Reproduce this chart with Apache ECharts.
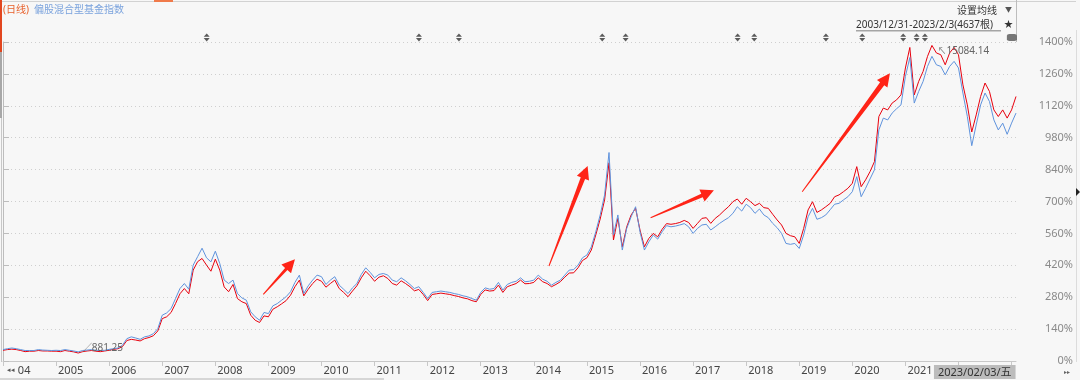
<!DOCTYPE html>
<html><head><meta charset="utf-8">
<script src="https://cdn.jsdelivr.net/npm/echarts@6/dist/echarts.min.js"></script>
<style>html,body{margin:0;padding:0;background:#f7f7f7}#c{width:1080px;height:380px}</style>
</head><body><div id="c"></div>
<script>
// ---- data (percent; one value per month, 2004-01 .. 2023-02) ----
const months = [];
for (let y = 2004; y <= 2023; y++) for (let m = 1; m <= 12; m++) { if (y === 2023 && m > 2) break; months.push(y + '-' + String(m).padStart(2, '0')); }

const redVals = [47,50,52,50,46,41,43,43,46,44,44,43,
 43,41,46,43,40,35,41,44,46,43,41,44,
 47,51,54,63,90,95,92,88,98,103,111,132,
 186,194,213,252,295,318,295,399,436,450,421,394,
 447,399,325,304,336,274,260,252,201,179,169,198,
 194,227,238,251,265,289,326,355,286,315,340,359,
 350,324,340,355,318,301,282,307,330,365,394,374,
 350,368,374,362,340,333,352,340,326,308,314,292,
 265,292,295,298,295,292,287,283,277,273,265,260,
 292,312,307,309,333,301,326,333,340,355,339,340,
 345,365,348,340,326,336,348,368,386,387,409,441,
 453,487,553,623,707,870,531,626,501,589,641,670,
 575,501,538,560,545,578,603,600,603,608,617,608,
 582,604,626,629,604,626,641,660,677,699,711,688,
 714,699,682,692,673,670,644,619,597,560,550,545,
 516,582,663,699,652,663,677,692,721,729,743,758,
 780,853,765,795,831,875,1073,1110,1102,1132,1146,1168,
 1286,1376,1168,1227,1271,1337,1385,1352,1344,1300,1352,1376,
 1344,1212,1124,1005,1080,1161,1220,1183,1102,1073,1102,1066,
 1102,1161];
const blueVals = [50,54,57,54,50,46,46,46,50,48,47,46,
 47,46,50,47,44,40,46,48,50,47,46,47,
 51,54,57,69,98,106,101,95,106,110,120,142,
 201,211,230,274,318,340,315,421,458,495,453,435,
 482,428,355,340,355,296,277,267,216,194,179,213,
 208,242,252,267,282,304,345,377,296,330,355,377,
 370,336,355,370,333,315,296,321,340,380,409,389,
 365,380,384,377,355,348,365,352,336,318,326,301,
 274,301,304,307,304,301,296,292,286,282,274,267,
 301,321,315,318,345,311,336,345,350,365,348,350,
 355,377,359,350,333,345,355,377,399,401,421,453,
 465,501,567,641,729,915,553,641,487,582,633,677,
 567,487,523,553,535,567,594,589,592,597,603,589,
 560,582,597,600,575,589,604,617,629,648,677,658,
 688,673,648,667,641,629,604,585,560,516,512,516,
 494,553,633,670,622,629,641,664,688,692,707,721,
 743,809,721,758,799,839,1014,1066,1058,1088,1107,1124,
 1249,1332,1132,1183,1227,1293,1337,1300,1293,1256,1293,1315,
 1286,1176,1073,945,1036,1124,1176,1139,1058,1014,1044,995,
 1044,1088];

const yTicks = {min: 0, max: 1400, step: 140};
const maxText = '15084.14', minText = '881.25';
const lastDateText = '2023/02/03/五';
const rangeText = '2003/12/31-2023/2/3(4637根)';
// event markers (month index positions) and hand-drawn arrows [fromIdx, fromVal, toIdx, toVal]
const eventIdx = [46.05, 94.03, 103.07, 135.47, 140.75, 166.07, 169.83, 186.03, 194.24, 203.5, 206.53, 208.41];
const eventBlobIdx = [228.07];
const eventLevel = 1420;
const arrows = [[58.84, 292.7, 66.0, 446.3],[123.42, 416.9, 132.16, 855.8],[146.4, 628.9, 160.71, 749.2],[180.67, 743.0, 200.5, 1262.6]];

const FONT = '"Noto Sans","Noto Sans CJK SC",sans-serif';
const chart = echarts.init(document.getElementById('c'), null, {renderer: 'canvas'});
const lastIdx = months.length - 1;
const boxIdx = 210;

const option = {
  backgroundColor: '#f7f7f7',
  animation: false,
  textStyle: {fontFamily: FONT},
  grid: {left: 3, right: 64, top: 42, bottom: 19},
  xAxis: [{
    type: 'category', data: months, boundaryGap: false,
    axisLine: {lineStyle: {color: '#c8c8c8'}},
    axisTick: {show: true, length: 5, interval: (i) => i % 12 === 0, lineStyle: {color: '#c8c8c8'}},
    axisLabel: {
      interval: (i) => (i % 12 === 0 && i <= 204) || i === boxIdx,
      align: 'left', margin: 4, padding: [0, 0, 0, 2], fontSize: 11, color: '#444', fontFamily: FONT,
      formatter: (v, i) => i === 0 ? '{a|◂◂} {b|04}' : (i === boxIdx ? '{h|' + lastDateText + '}' : v.slice(0, 4)),
      rich: {
        a: {fontSize: 7, color: '#555', padding: [0, 0, 0, 2]},
        b: {fontSize: 11, color: '#444'},
        h: {backgroundColor: '#bcbcbc', color: '#333', fontSize: 11, padding: [2, 4, 1, 4]}
      }
    },
    splitLine: {show: false}
  }, {
    type: 'value', min: 0, max: lastIdx, show: false
  }],
  yAxis: {
    type: 'value', position: 'right', min: yTicks.min, max: yTicks.max, interval: yTicks.step,
    axisLine: {show: true, lineStyle: {color: '#bdbdbd'}},
    axisTick: {show: true, length: 6, lineStyle: {color: '#bdbdbd'}},
    axisLabel: {formatter: (v) => v + '%', align: 'right', margin: 57, fontSize: 11, color: '#8a8a8a', fontFamily: FONT},
    splitLine: {show: true, lineStyle: {color: '#cfcfcf', type: [1, 3], width: 1}}
  },
  series: [{
    name: 'red', type: 'line', data: redVals, showSymbol: false, symbol: 'none',
    lineStyle: {color: '#e8000d', width: 1}, z: 2,
    markPoint: {
      symbol: 'circle', symbolSize: 1, itemStyle: {color: 'transparent'},
      label: {show: true, align: 'left', verticalAlign: 'middle',
        rich: {l: {fontSize: 9, color: '#777'}, t: {fontSize: 10, color: '#666'}}},
      data: [
        {type: 'max', label: {position: [6, 6.5], formatter: '{l|↖}{t|' + maxText + '}'}},
        {type: 'min', label: {position: [5, -4], formatter: '{l|╱}{t|' + minText + '}'}}
      ]
    }
  }, {
    name: 'blue', type: 'line', data: blueVals, showSymbol: false, symbol: 'none',
    lineStyle: {color: '#5f93dd', width: 1}, z: 3
  }, {
    name: 'arrows', type: 'custom', xAxisIndex: 1, yAxisIndex: 0, clip: false, z: 5,
    data: arrows,
    renderItem: (params, api) => {
      const p1 = api.coord([api.value(0), api.value(1)]);
      const p2 = api.coord([api.value(2), api.value(3)]);
      const dx = p2[0] - p1[0], dy = p2[1] - p1[1];
      const L = Math.hypot(dx, dy), ux = dx / L, uy = dy / L, nx = -uy, ny = ux;
      const hl = 13, hw = 6.5, w0 = 0.5, w1 = Math.min(2.6, 1 + L / 80);
      const bx = p2[0] - ux * hl, by = p2[1] - uy * hl;
      const pts = [
        [p1[0] + nx * w0, p1[1] + ny * w0], [bx + nx * w1, by + ny * w1], [bx + nx * hw, by + ny * hw],
        [p2[0], p2[1]],
        [bx - nx * hw, by - ny * hw], [bx - nx * w1, by - ny * w1], [p1[0] - nx * w0, p1[1] - ny * w0]
      ];
      return {type: 'polygon', shape: {points: pts}, style: {fill: '#ff2417'}};
    }
  }, {
    name: 'events', type: 'scatter', xAxisIndex: 1, yAxisIndex: 0, clip: false, z: 4,
    symbol: 'path://M3,0 L6,3.4 L0,3.4 Z M0,4.6 L6,4.6 L3,8 Z', symbolSize: [6, 8],
    itemStyle: {color: '#333'},
    data: eventIdx.map(x => [x, eventLevel])
  }, {
    name: 'eventsBlob', type: 'scatter', xAxisIndex: 1, yAxisIndex: 0, clip: false, z: 4,
    symbol: 'roundRect', symbolSize: [10, 7], itemStyle: {color: '#555'},
    data: eventBlobIdx.map(x => [x, eventLevel])
  }],
  graphic: [
    {type: 'rect', shape: {x: 0, y: 1, width: 1076, height: 1}, style: {fill: '#d2d2d2'}, silent: true},
    {type: 'rect', shape: {x: 154, y: 0, width: 19, height: 2}, style: {fill: '#f07a4a'}, silent: true},
    {type: 'rect', shape: {x: 0, y: 0, width: 2, height: 52}, style: {fill: '#e2461f'}, silent: true},
    {type: 'rect', shape: {x: 0, y: 52, width: 2, height: 66}, style: {fill: '#a8a8a8'}, silent: true},
    {type: 'rect', shape: {x: 1, y: 118, width: 1, height: 244}, style: {fill: '#c8c8c8'}, silent: true},
    {type: 'rect', shape: {x: 1016, y: 0, width: 1, height: 42}, style: {fill: '#bdbdbd'}, silent: true},
    {type: 'rect', shape: {x: 1076, y: 30, width: 1, height: 332}, style: {fill: '#dcdcdc'}, silent: true},
    {type: 'rect', shape: {x: 0, y: 378, width: 384, height: 2}, style: {fill: '#d6d6d6'}, silent: true},
    {type: 'polygon', shape: {points: [[1076, 188], [1080, 192], [1076, 196]]}, style: {fill: '#222'}, silent: true},
    {type: 'text', x: 3, y: 10, style: {text: '(日线)', fill: '#e8612c', font: '10px ' + FONT, textVerticalAlign: 'middle'}},
    {type: 'text', x: 34, y: 10, style: {text: '偏股混合型基金指数', fill: '#7ba3dd', font: '10px ' + FONT, textVerticalAlign: 'middle'}},
    {type: 'text', x: 957, y: 11, style: {text: '设置均线', fill: '#333', font: '10px ' + FONT, textVerticalAlign: 'middle'}},
    {type: 'text', x: 1005, y: 10, style: {text: '▼', fill: '#555', font: '7px ' + FONT, textVerticalAlign: 'middle'}},
    {type: 'text', x: 856, y: 25, style: {text: rangeText, fill: '#333', font: '10px ' + FONT, textVerticalAlign: 'middle'}},
    {type: 'rect', shape: {x: 856, y: 30.5, width: 145, height: 0.8}, style: {fill: '#555'}, silent: true},
    {type: 'text', x: 1004, y: 24, style: {text: '★', fill: '#333', font: '9px ' + FONT, textVerticalAlign: 'middle'}},
    {type: 'text', x: 1064, y: 372, style: {text: '▸▸', fill: '#666', font: '6px ' + FONT, textVerticalAlign: 'middle'}}
  ]
};
chart.setOption(option);
</script></body></html>
